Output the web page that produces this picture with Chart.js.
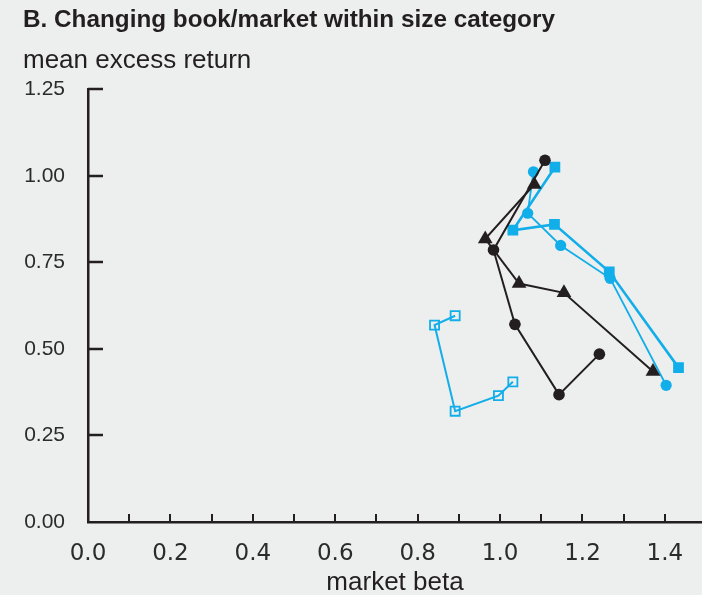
<!DOCTYPE html>
<html>
<head>
<meta charset="utf-8">
<script src="https://cdn.jsdelivr.net/npm/chart.js@4/dist/chart.umd.min.js"></script>
<style>
  html, body { margin: 0; padding: 0; background: #edeeee; }
  canvas { display: block; }
</style>
</head>
<body>
<canvas id="c" width="702" height="595"></canvas>
<script>
// Mean excess return against market beta, five portfolios per size group
const blackCircleBeta = [1.109, 0.984, 1.036, 1.143, 1.241];
const blackCircleRet  = [1.045, 0.786, 0.571, 0.368, 0.485];

const blackTriangleBeta = [1.083, 0.964, 1.046, 1.155, 1.371];
const blackTriangleRet  = [0.975, 0.818, 0.689, 0.662, 0.435];

const blueCircleBeta = [1.081, 1.067, 1.147, 1.267, 1.403];
const blueCircleRet  = [1.012, 0.892, 0.799, 0.704, 0.395];

const blueSquareBeta = [1.133, 1.031, 1.132, 1.265, 1.433];
const blueSquareRet  = [1.025, 0.843, 0.860, 0.723, 0.446];

const openSquareBeta = [0.891, 0.841, 0.891, 0.996, 1.031];
const openSquareRet  = [0.596, 0.569, 0.320, 0.365, 0.405];

const yTickValues = [0, 0.25, 0.5, 0.75, 1.0, 1.25];
const xLabelEvery = 0.2;

const INK = '#231f20';
const CYAN = '#12aeea';

function pairs(xs, ys) {
  return xs.map((x, i) => ({ x: x, y: ys[i] }));
}

// short tick marks drawn on the inner side of both axes
const innerTicks = {
  id: 'innerTicks',
  afterDraw(chart) {
    const ctx = chart.ctx;
    const xs = chart.scales.x, ys = chart.scales.y;
    const area = chart.chartArea;
    ctx.save();
    ctx.strokeStyle = INK;
    ctx.lineCap = 'butt';
    ctx.lineWidth = 2;
    xs.ticks.forEach(t => {
      if (t.value <= 0) return;
      const px = Math.round(xs.getPixelForValue(t.value));
      ctx.beginPath();
      ctx.moveTo(px, area.bottom);
      ctx.lineTo(px, area.bottom - 8);
      ctx.stroke();
    });
    ctx.lineWidth = 2.5;
    ys.ticks.forEach(t => {
      if (t.value <= 0) return;
      const py = Math.round(ys.getPixelForValue(t.value));
      ctx.beginPath();
      ctx.moveTo(area.left, py);
      ctx.lineTo(area.left + 15, py);
      ctx.stroke();
    });
    ctx.restore();
  }
};

new Chart(document.getElementById('c'), {
  type: 'scatter',
  data: {
    datasets: [
      {
        data: pairs(blackCircleBeta, blackCircleRet),
        showLine: true,
        borderColor: INK, borderWidth: 2,
        pointStyle: 'circle', pointRadius: 5.8,
        pointBackgroundColor: INK, pointBorderWidth: 0
      },
      {
        data: pairs(blackTriangleBeta, blackTriangleRet),
        showLine: true,
        borderColor: INK, borderWidth: 2,
        pointStyle: 'triangle', pointRadius: 8.5,
        pointBackgroundColor: INK, pointBorderWidth: 0
      },
      {
        data: pairs(blueCircleBeta, blueCircleRet),
        showLine: true,
        borderColor: CYAN, borderWidth: 1.8,
        pointStyle: 'circle', pointRadius: 5.6,
        pointBackgroundColor: CYAN, pointBorderWidth: 0
      },
      {
        data: pairs(blueSquareBeta, blueSquareRet),
        showLine: true,
        borderColor: CYAN, borderWidth: 2.6,
        pointStyle: 'rect', pointRadius: 7.6,
        pointBackgroundColor: CYAN, pointBorderWidth: 0
      },
      {
        data: pairs(openSquareBeta, openSquareRet),
        showLine: true,
        borderColor: CYAN, borderWidth: 2,
        pointStyle: 'rect', pointRadius: 6.4,
        pointBackgroundColor: 'rgba(0,0,0,0)',
        pointBorderColor: CYAN, pointBorderWidth: 1.8
      }
    ]
  },
  options: {
    responsive: false,
    animation: false,
    events: [],
    layout: { autoPadding: false, padding: { left: 23, top: 0, right: 0, bottom: 0 } },
    plugins: {
      legend: { display: false },
      tooltip: { enabled: false },
      title: {
        display: true,
        text: 'B. Changing book/market within size category',
        align: 'start',
        color: INK,
        font: { family: 'Liberation Sans', size: 24.3, weight: 'bold', lineHeight: 1.2 },
        padding: { top: 6, bottom: 10 }
      },
      subtitle: {
        display: true,
        text: 'mean excess return',
        align: 'start',
        color: INK,
        font: { family: 'Liberation Sans', size: 26, weight: 'normal', lineHeight: 1.2 },
        padding: { top: 0, bottom: 13 }
      }
    },
    scales: {
      x: {
        type: 'linear',
        min: 0, max: 1.49,
        grid: { display: false, drawTicks: false, tickLength: 0 },
        border: { display: true, color: INK, width: 2.5 },
        ticks: {
          stepSize: 0.1,
          includeBounds: false,
          autoSkip: false,
          maxRotation: 0,
          padding: 18,
          color: '#2b2b2b',
          font: { family: 'DejaVu Sans', size: 23 },
          callback: (v) => {
            const k = Math.round(v * 10);
            return k % Math.round(xLabelEvery * 10) === 0 ? (k / 10).toFixed(1) : '';
          }
        },
        title: {
          display: true,
          text: 'market beta',
          color: INK,
          font: { family: 'Liberation Sans', size: 26, lineHeight: 0.95 },
          padding: { top: 0, bottom: 0 }
        },
        afterFit: (s) => {
          s.height = 73;
          s.paddingLeft = 0;
          s.paddingRight = 0;
        }
      },
      y: {
        type: 'linear',
        min: 0, max: 1.25,
        grid: { display: false, drawTicks: false, tickLength: 0 },
        border: { display: true, color: INK, width: 2.5 },
        afterBuildTicks: (s) => { s.ticks = yTickValues.map(v => ({ value: v })); },
        ticks: {
          padding: 23,
          color: '#2b2b2b',
          font: { family: 'Liberation Sans', size: 21 },
          callback: (v) => Number(v).toFixed(2)
        },
        afterFit: (s) => { s.width = 65; }
      }
    }
  },
  plugins: [innerTicks]
});
</script>
</body>
</html>
